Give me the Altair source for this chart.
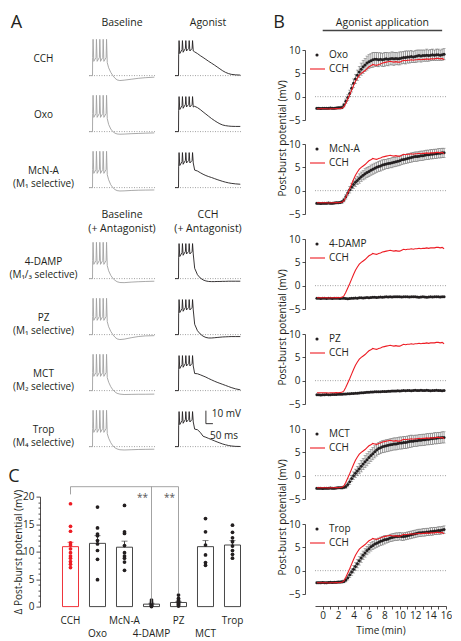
import altair as alt
import pandas as pd
import numpy as np

FONT = "Open Sans"
INK = "#231f20"
RED = "#ed1c24"
TRACE_GRAY = "#a0a0a0"
TRACE_BLACK = "#231f20"
DOT_GRAY = "#8a8a8a"

# ------------------------------------------------------------------ Panel A data
A_ROWS = ["CCH", "Oxo", "McN-A", "4-DAMP", "PZ", "MCT", "Trop"]
A_ROW_LABELS = {
    "CCH": ["CCH"],
    "Oxo": ["Oxo"],
    "McN-A": ["McN-A", "(M₁ selective)"],
    "4-DAMP": ["4-DAMP", "(M₁/₃ selective)"],
    "PZ": ["PZ", "(M₁ selective)"],
    "MCT": ["MCT", "(M₂ selective)"],
    "Trop": ["Trop", "(M₄ selective)"],
}
A_HEAD_TOP = [["Baseline"], ["Agonist"]]
A_HEAD_BOTTOM = [["Baseline", "(+ Antagonist)"], ["CCH", "(+ Antagonist)"]]

# burst (ms, mV relative to pre-burst level)
BURST_T = [0, 25, 26, 29, 34, 50, 53, 58, 74, 77, 82, 98, 101, 106, 122, 125, 130]
BASE_BURST_V = [0, 0, 14, 28, 11, 14, 28, 11, 14, 28, 11, 14, 28, 11, 14, 28, 10]
AGO_BURST_V = [0, 0, 16, 27, 17, 20, 27, 18, 21, 27, 19, 21, 27, 19, 21, 27, 19]

BASE_TAIL_T = [140, 155, 170, 185, 200, 220, 250, 300, 350, 400, 465]
BASE_TAIL_V = {
    "CCH": [6, 2.5, 0.0, -2.0, -3.3, -3.8, -3.5, -2.8, -2.1, -1.6, -1.2],
    "Oxo": [5.5, 2, 0.0, -1.2, -1.8, -2.0, -1.9, -1.6, -1.4, -1.2, -1.0],
    "McN-A": [6, 2.2, 0.0, -1.5, -2.3, -2.6, -2.5, -2.2, -2.0, -1.9, -1.8],
    "4-DAMP": [6, 2.5, 0.2, -1.3, -2.4, -3.0, -3.1, -2.7, -2.4, -2.2, -2.0],
    "PZ": [6, 2.5, 0.0, -2.0, -3.3, -3.8, -3.5, -2.4, -1.5, -1.0, -0.8],
    "MCT": [6.5, 3, 0.6, -1.0, -2.1, -2.7, -3.0, -2.9, -2.8, -2.8, -2.7],
    "Trop": [6.5, 3, 0.6, -0.9, -1.8, -2.4, -2.6, -2.4, -2.2, -2.1, -2.0],
}
AGO_TAIL_T = [140, 160, 180, 200, 220, 240, 260, 280, 300, 320, 340, 360, 380, 400, 430, 465]
AGO_TAIL_V = {
    "CCH": [18.3, 17.0, 15.4, 14.0, 12.5, 11.0, 9.6, 8.2, 6.7, 5.2, 3.7, 2.5, 1.6, 1.0, 0.6, 0.4],
    "Oxo": [19.5, 18.5, 17.0, 15.2, 13.5, 11.8, 10.1, 8.6, 7.2, 6.0, 5.1, 4.6, 4.3, 4.1, 4.0, 4.0],
    "McN-A": [13.5, 12.8, 11.5, 10.3, 9.3, 8.5, 7.8, 7.0, 6.2, 5.5, 4.8, 4.2, 3.7, 3.3, 2.9, 2.6],
    "4-DAMP": [8.0, 3.0, 0.5, -1.0, -1.8, -2.2, -2.3, -2.3, -2.2, -2.2, -2.1, -2.1, -2.0, -2.0, -2.0, -2.0],
    "PZ": [8.0, 3.0, 0.5, -1.2, -2.2, -2.6, -2.6, -2.4, -2.2, -2.0, -1.8, -1.7, -1.6, -1.5, -1.5, -1.5],
    "MCT": [13.2, 13.0, 12.2, 11.3, 10.4, 9.3, 8.3, 7.3, 6.4, 5.6, 4.8, 4.0, 3.2, 2.4, 1.4, 0.6],
    "Trop": [13.5, 13.0, 11.0, 8.0, 7.2, 6.3, 5.4, 4.5, 3.6, 2.8, 2.0, 1.4, 0.9, 0.5, 0.2, 0.1],
}
SCALEBAR_T = [220, 270]      # 50 ms
SCALEBAR_V = [17.7, 27.7]    # 10 mV

# ------------------------------------------------------------------ Panel B data
T_GRID = np.round(np.arange(-0.75, 15.76, 0.25), 2)
CCH_B = [-2.6, -2.6, -2.6, -2.6, -2.6, -2.6, -2.65, -2.6, -2.6, -2.6, -2.55, -2.6, -2.55,
         -2.5, -2.2, -1.4, -0.5, 0.4, 1.4, 2.4, 3.3, 4.0, 4.6,
         5.0, 5.3, 5.6, 6.0, 6.4, 6.6, 6.9, 6.8, 6.7, 6.9,
         7.0, 7.2, 7.3, 7.4, 7.5, 7.6, 7.5, 7.4, 7.5, 7.4,
         7.4, 7.6, 7.8, 7.7, 7.8, 7.8, 7.9, 7.8, 7.9, 7.9,
         8.0, 7.9, 8.0, 8.0, 8.1, 8.0, 8.1, 8.1, 8.1, 8.2,
         8.2, 8.1, 8.2, 7.9]
B_DRUGS = ["Oxo", "McN-A", "4-DAMP", "PZ", "MCT", "Trop"]
B_VALUES = {
    "Oxo": [-2.5, -2.5, -2.55, -2.5, -2.5, -2.5, -2.5, -2.45, -2.5, -2.5, -2.45, -2.4, -2.4,
            -2.3, -1.8, -1.0, -0.2, 0.7, 1.8, 2.9, 3.8, 4.6, 5.3,
            5.9, 6.4, 6.8, 7.2, 7.5, 7.7, 7.9, 8.0, 8.0, 7.9,
            8.0, 7.9, 8.0, 8.1, 8.0, 8.1, 8.2, 8.1, 8.2, 8.1,
            8.2, 8.3, 8.4, 8.4, 8.5, 8.5, 8.6, 8.5, 8.6, 8.7,
            8.8, 8.7, 8.8, 8.8, 8.9, 8.8, 8.9, 9.0, 8.9, 9.0,
            9.0, 8.9, 9.0, 9.1],
    "McN-A": [-2.7, -2.7, -2.75, -2.7, -2.7, -2.7, -2.65, -2.7, -2.7, -2.65, -2.6, -2.6, -2.55,
              -2.4, -2.0, -1.3, -0.5, 0.2, 0.8, 1.3, 1.8, 2.2, 2.6,
              3.0, 3.3, 3.6, 3.9, 4.1, 4.4, 4.6, 4.8, 5.0, 5.2,
              5.3, 5.5, 5.6, 5.7, 5.8, 5.9, 6.0, 6.1, 6.2, 6.3,
              6.4, 6.6, 6.7, 6.8, 6.9, 7.0, 7.1, 7.2, 7.3, 7.3,
              7.4, 7.5, 7.5, 7.6, 7.7, 7.7, 7.8, 7.8, 7.9, 7.9,
              8.0, 8.0, 8.1, 8.1],
    "4-DAMP": [-2.7, -2.7, -2.75, -2.7, -2.7, -2.75, -2.7, -2.7, -2.75, -2.7,
               -2.7, -2.7, -2.75, -2.7, -2.7, -2.75, -2.8, -2.75, -2.7, -2.7,
               -2.65, -2.7, -2.6, -2.6, -2.65, -2.6, -2.55, -2.6, -2.55, -2.5,
               -2.5, -2.55, -2.5, -2.45, -2.5, -2.45, -2.4, -2.45, -2.4, -2.45,
               -2.4, -2.4, -2.35, -2.4, -2.45, -2.4, -2.35, -2.4, -2.45, -2.4,
               -2.35, -2.4, -2.45, -2.5, -2.45, -2.4, -2.45, -2.5, -2.45, -2.4,
               -2.45, -2.4, -2.35, -2.4, -2.45, -2.4, -2.35],
    "PZ": [-3.0, -3.0, -3.05, -3.0, -3.0, -2.95, -3.0, -3.0, -2.95, -2.95,
           -2.95, -2.9, -2.9, -2.9, -2.85, -2.85, -2.8, -2.8, -2.75, -2.75,
           -2.7, -2.7, -2.65, -2.6, -2.6, -2.55, -2.5, -2.5, -2.45, -2.45,
           -2.4, -2.4, -2.35, -2.35, -2.3, -2.3, -2.3, -2.25, -2.25, -2.2,
           -2.2, -2.2, -2.15, -2.2, -2.15, -2.1, -2.15, -2.1, -2.1, -2.15,
           -2.1, -2.05, -2.1, -2.1, -2.05, -2.1, -2.1, -2.05, -2.1, -2.15,
           -2.1, -2.1, -2.05, -2.1, -2.1, -2.15, -2.1],
    "MCT": [-2.7, -2.7, -2.7, -2.75, -2.7, -2.7, -2.7, -2.65, -2.7, -2.7, -2.65, -2.6, -2.6,
            -2.6, -2.5, -2.3, -1.9, -1.3, -0.6, 0.0, 0.5, 1.0, 1.5,
            2.0, 2.5, 3.0, 3.4, 3.9, 4.3, 4.7, 5.1, 5.5, 5.8,
            6.0, 6.2, 6.3, 6.4, 6.5, 6.6, 6.7, 6.8, 6.8, 6.9,
            7.0, 7.0, 7.1, 7.1, 7.2, 7.3, 7.4, 7.4, 7.5, 7.5,
            7.6, 7.6, 7.7, 7.7, 7.8, 7.8, 7.9, 7.9, 8.0, 8.0,
            8.1, 8.1, 8.2, 8.2],
    "Trop": [-2.6, -2.6, -2.6, -2.55, -2.6, -2.6, -2.55, -2.5, -2.55, -2.5, -2.5, -2.45, -2.45,
             -2.4, -2.3, -2.0, -1.5, -0.9, -0.3, 0.3, 0.9, 1.5, 2.1,
             2.7, 3.3, 3.8, 4.3, 4.7, 5.1, 5.4, 5.7, 5.9, 6.1,
             6.3, 6.4, 6.6, 6.7, 6.8, 7.0, 7.1, 7.2, 7.3, 7.3,
             7.4, 7.3, 7.3, 7.4, 7.5, 7.6, 7.7, 7.8, 7.9, 8.0,
             8.1, 8.1, 8.2, 8.2, 8.3, 8.3, 8.4, 8.4, 8.5, 8.5,
             8.6, 8.6, 8.7, 8.8],
}
B_SEM = {
    "Oxo": [0.2, 0.2, 0.2, 0.2, 0.2, 0.2, 0.2, 0.2, 0.2, 0.2, 0.2, 0.2, 0.25,
            0.3, 0.4, 0.5, 0.6, 0.7, 0.8, 0.9, 1.0, 1.1, 1.2,
            1.3, 1.4, 1.4, 1.5, 1.5, 1.5, 1.6, 1.5, 1.5, 1.5,
            1.4, 1.4, 1.5, 1.4, 1.4, 1.3, 1.4, 1.4, 1.3, 1.3,
            1.4, 1.3, 1.3, 1.4, 1.3, 1.3, 1.3, 1.2, 1.3, 1.3,
            1.2, 1.3, 1.2, 1.2, 1.3, 1.2, 1.2, 1.2, 1.1, 1.2,
            1.2, 1.1, 1.2, 1.2],
    "McN-A": [0.2, 0.2, 0.2, 0.2, 0.2, 0.2, 0.2, 0.2, 0.2, 0.2, 0.2, 0.2, 0.25,
              0.3, 0.4, 0.5, 0.6, 0.7, 0.8, 0.8, 0.9, 0.9, 1.0,
              1.0, 1.0, 1.1, 1.1, 1.1, 1.1, 1.1, 1.1, 1.1, 1.1,
              1.1, 1.1, 1.1, 1.0, 1.1, 1.0, 1.1, 1.0, 1.0, 1.0,
              1.0, 1.0, 1.0, 1.0, 1.0, 1.0, 1.0, 1.0, 1.0, 1.0,
              1.0, 1.0, 1.0, 1.0, 1.0, 1.0, 1.0, 1.0, 1.0, 1.0,
              1.0, 1.0, 1.0, 1.0],
    "MCT": [0.2, 0.2, 0.2, 0.2, 0.2, 0.2, 0.2, 0.2, 0.2, 0.2, 0.2, 0.2, 0.2,
            0.25, 0.3, 0.4, 0.5, 0.6, 0.7, 0.8, 0.9, 1.0, 1.1,
            1.2, 1.2, 1.3, 1.3, 1.3, 1.3, 1.3, 1.3, 1.3, 1.3,
            1.3, 1.3, 1.3, 1.3, 1.3, 1.3, 1.3, 1.3, 1.3, 1.3,
            1.3, 1.3, 1.3, 1.3, 1.3, 1.3, 1.3, 1.2, 1.2, 1.2,
            1.2, 1.2, 1.2, 1.2, 1.2, 1.2, 1.2, 1.2, 1.2, 1.2,
            1.2, 1.2, 1.2, 1.2],
    "Trop": [0.2, 0.2, 0.2, 0.2, 0.2, 0.2, 0.2, 0.2, 0.2, 0.2, 0.2, 0.2, 0.2,
             0.25, 0.3, 0.4, 0.5, 0.6, 0.7, 0.8, 0.8, 0.9, 0.9,
             0.9, 0.9, 0.9, 0.9, 0.9, 0.9, 0.9, 0.9, 0.9, 0.9,
             0.9, 0.9, 0.9, 0.8, 0.8, 0.8, 0.8, 0.8, 0.8, 0.8,
             0.8, 0.8, 0.8, 0.8, 0.8, 0.8, 0.8, 0.8, 0.8, 0.8,
             0.8, 0.8, 0.8, 0.8, 0.8, 0.8, 0.8, 0.8, 0.8, 0.8,
             0.8, 0.8, 0.8, 0.8],
}

# ------------------------------------------------------------------ Panel C data
C_GROUPS = ["CCH", "Oxo", "McN-A", "4-DAMP", "PZ", "MCT", "Trop"]
C_MEAN = [10.9, 11.5, 10.8, 0.45, 0.75, 10.9, 11.2]
C_SEM = [0.8, 1.4, 1.1, 0.15, 0.2, 1.1, 0.8]
C_CELLS = {
    "CCH": [18.7, 14.6, 13.7, 11.6, 11.2, 10.5, 9.8, 9.2, 8.8, 8.2, 7.7, 7.1],
    "Oxo": [18.1, 14.3, 13.2, 12.9, 12.0, 11.4, 10.2, 8.6, 4.9],
    "McN-A": [18.4, 13.6, 13.3, 11.1, 9.8, 9.2, 8.8, 8.1, 6.6],
    "4-DAMP": [1.2, 0.9, 0.7, 0.5, 0.4, 0.3, 0.2, 0.1, 0.0],
    "PZ": [2.1, 1.5, 1.2, 1.0, 0.8, 0.6, 0.4, 0.3, 0.1],
    "MCT": [16.0, 13.6, 11.2, 9.4, 8.0, 7.5],
    "Trop": [14.8, 13.5, 12.5, 11.8, 11.0, 10.2, 9.5, 8.8],
}
C_BRACKET = {"from": "CCH", "to": "PZ", "y": 21.8}
C_DROPS = {"g": ["CCH", "4-DAMP", "PZ"], "bot": [20.4, 0.6, 2.4]}
C_STARS = {"g": ["4-DAMP", "PZ"], "y": [19.8, 19.8], "txt": ["**", "**"]}


def one():
    return pd.DataFrame({"k": [0]})


def label(text, x, y, size=10, align="center", baseline="middle", lh=13):
    return alt.Chart(one()).mark_text(
        font=FONT, fontSize=size, color=INK, align=align, baseline=baseline, lineHeight=lh
    ).encode(x=alt.value(x), y=alt.value(y), text=alt.value(text))


def blank(w, h):
    return alt.Chart(one()).mark_point(opacity=0).encode(
        x=alt.value(0), y=alt.value(0)).properties(width=w, height=h)


# ------------------------------------------------------------------ Panel A charts
LW = 11.3          # row-label column
CW, CHH = 66, 48   # trace cells
T_DOM = [0, 470]
V_DOM = [-8, 29]


def label_cell(row, letter=False):
    lab = A_ROW_LABELS[row]
    layers = [label(lab if len(lab) > 1 else lab[0], -13.5, 21, size=10, lh=13)]
    if letter:
        layers.append(label("A", -40.5, -15, size=18))
    return alt.layer(*layers).properties(width=LW, height=CHH)


def trace_cell(row, cond, header=None, scalebar=False):
    if cond == "base":
        t = BURST_T + BASE_TAIL_T
        v = BASE_BURST_V + BASE_TAIL_V[row]
        color = TRACE_GRAY
    else:
        t = BURST_T + AGO_TAIL_T
        v = AGO_BURST_V + AGO_TAIL_V[row]
        color = TRACE_BLACK
    xsc = alt.Scale(domain=T_DOM, nice=False, zero=False)
    ysc = alt.Scale(domain=V_DOM, nice=False, zero=False)

    def X(f):
        return alt.X(f, scale=xsc, axis=None)

    def Y(f):
        return alt.Y(f, scale=ysc, axis=None)

    df = pd.DataFrame({"t": t, "v": v})
    zero = alt.Chart(pd.DataFrame({"v": [0.0]})).mark_rule(
        color=DOT_GRAY, strokeDash=[1, 1.5], strokeWidth=0.8).encode(y=Y("v:Q"))
    line = alt.Chart(df).mark_line(color=color, strokeWidth=0.9).encode(x=X("t:Q"), y=Y("v:Q"))
    layers = [zero, line]
    if header is not None:
        if len(header) == 1:
            layers.append(label(header[0], CW / 2, -15, size=10.5))
        else:
            layers.append(label(header, CW / 2, -26, size=10.5, lh=14))
    if scalebar:
        sb = pd.DataFrame({"t0": [SCALEBAR_T[0]], "t1": [SCALEBAR_T[1]],
                           "v0": [SCALEBAR_V[0]], "v1": [SCALEBAR_V[1]]})
        layers.append(alt.Chart(sb).mark_rule(color=INK, strokeWidth=0.9).encode(
            x=X("t0:Q"), y=Y("v0:Q"), y2="v1:Q"))
        layers.append(alt.Chart(sb).mark_rule(color=INK, strokeWidth=0.9).encode(
            x=X("t0:Q"), x2="t1:Q", y=Y("v0:Q")))
        lab = pd.DataFrame({"t": [262, 249], "v": [25.0, 8.0], "txt": ["10 mV", "50 ms"]})
        layers.append(alt.Chart(lab).mark_text(
            font=FONT, fontSize=10, color=INK, align="left", baseline="middle"
        ).encode(x=X("t:Q"), y=Y("v:Q"), text="txt:N"))
    return alt.layer(*layers).properties(width=CW, height=CHH)


cells = []
for i, row in enumerate(A_ROWS[:3]):
    cells.append(label_cell(row, letter=(i == 0)))
    cells.append(trace_cell(row, "base", header=A_HEAD_TOP[0] if i == 0 else None))
    cells.append(trace_cell(row, "ago", header=A_HEAD_TOP[1] if i == 0 else None))
cells += [blank(LW, 27), blank(CW, 27), blank(CW, 27)]
for i, row in enumerate(A_ROWS[3:]):
    cells.append(label_cell(row))
    cells.append(trace_cell(row, "base", header=A_HEAD_BOTTOM[0] if i == 0 else None))
    cells.append(trace_cell(row, "ago", header=A_HEAD_BOTTOM[1] if i == 0 else None,
                            scalebar=(row == "Trop")))

panel_a = alt.concat(*cells, columns=3, bounds="flush", align="each",
                     spacing={"row": 8, "column": 20})

# ------------------------------------------------------------------ Panel B charts
BW, BH = 131, 70
B_XSC = alt.Scale(domain=[-1, 16], nice=False, zero=False)
B_YSC = alt.Scale(domain=[-5, 10], nice=False, zero=False)


def b_head():
    app = pd.DataFrame({"t0": [0.0], "t1": [15.5], "tm": [7.75], "txt": ["Agonist application"]})
    X = lambda f: alt.X(f, scale=B_XSC, axis=None)
    rule = alt.Chart(app).mark_rule(color="#444444", strokeWidth=1.3).encode(
        x=X("t0:Q"), x2="t1:Q", y=alt.value(-7.5))
    txt = alt.Chart(app).mark_text(
        font=FONT, fontSize=10.5, color=INK, align="center", baseline="middle"
    ).encode(x=X("tm:Q"), y=alt.value(-15.5), text="txt:N")
    return alt.layer(rule, txt, label("B", -36, -15, size=18)).properties(width=BW, height=11.3)


def b_chart(drug, ytitle=False, last=False):
    if last:
        xax = alt.Axis(values=list(range(0, 17)),
                       labelExpr="datum.value % 2 === 0 ? datum.label : ''",
                       title="Time (min)", offset=12, tickSize=3, labelPadding=1,
                       titlePadding=5, grid=False, labelFlush=False, labelFontSize=10,
                       titleFontSize=10)
    else:
        xax = None
    yargs = dict(values=[-5, 0, 5, 10], offset=10, tickSize=3, labelPadding=2, grid=False,
                 labelFontSize=10)
    if ytitle:
        yargs.update(title="Post-burst potential (mV)", titleY=88, titleX=-23,
                     titleBaseline="middle", titleFontSize=10)
    else:
        yargs.update(title="")
    yax = alt.Axis(**yargs)

    def X(f):
        return alt.X(f, scale=B_XSC, axis=xax)

    def Y(f):
        return alt.Y(f, scale=B_YSC, axis=yax)

    vals = B_VALUES[drug]
    df = pd.DataFrame({"t": T_GRID, "v": vals})
    cch = pd.DataFrame({"t": T_GRID, "v": CCH_B})

    zero = alt.Chart(pd.DataFrame({"v": [0.0]})).mark_rule(
        color=DOT_GRAY, strokeDash=[1, 1.5], strokeWidth=0.8).encode(y=Y("v:Q"))
    layers = [zero]
    if drug in B_SEM:
        sem = B_SEM[drug]
        edf = pd.DataFrame({"t": T_GRID, "lo": [a - b for a, b in zip(vals, sem)],
                            "hi": [a + b for a, b in zip(vals, sem)]})
        layers.append(alt.Chart(edf).mark_rule(color="#555555", strokeWidth=0.6).encode(
            x=X("t:Q"), y=Y("lo:Q"), y2="hi:Q"))
        for f in ["lo", "hi"]:
            layers.append(alt.Chart(edf).mark_tick(
                color="#555555", orient="horizontal", size=3, thickness=0.6
            ).encode(x=X("t:Q"), y=Y(f + ":Q")))
    dots = alt.Chart(df).mark_circle(size=9, color=INK, opacity=1).encode(x=X("t:Q"), y=Y("v:Q"))
    red = alt.Chart(cch).mark_line(color=RED, strokeWidth=1.1).encode(x=X("t:Q"), y=Y("v:Q"))
    layers += [dots, red]

    # legend (drawn)
    layers.append(alt.Chart(one()).mark_circle(size=10, color=INK, opacity=1).encode(
        x=alt.value(2), y=alt.value(5)))
    layers.append(alt.Chart(one()).mark_rule(color=RED, strokeWidth=1.1).encode(
        x=alt.value(-5), x2=alt.value(10), y=alt.value(19)))
    layers.append(label(drug, 14, 5, align="left"))
    layers.append(label("CCH", 14, 19, align="left"))
    return alt.layer(*layers).properties(width=BW, height=BH)


B_GAPS = [24, 25, 25, 25, 25]
b_items = [b_head()]
for i, d in enumerate(B_DRUGS):
    b_items.append(b_chart(d, ytitle=(i % 2 == 0), last=(i == len(B_DRUGS) - 1)))
    if i < len(B_DRUGS) - 1:
        b_items.append(blank(BW, B_GAPS[i]))
panel_b = alt.vconcat(*b_items, spacing=0, bounds="flush")

# ------------------------------------------------------------------ Panel C chart
bars_df = pd.DataFrame({"g": C_GROUPS, "mean": C_MEAN,
                        "hi": [m + s for m, s in zip(C_MEAN, C_SEM)]})
pts_rows = [(g, v) for g in C_GROUPS for v in C_CELLS[g]]
pts_df = pd.DataFrame(pts_rows, columns=["g", "val"])

cx = alt.Scale(domain=C_GROUPS, paddingInner=0.407, paddingOuter=0.2035)
cy = alt.Scale(domain=[0, 20], nice=False, zero=False)
cxax = alt.Axis(
    title=None, domain=False, ticks=False, tickSize=0, labelAngle=0, labelPadding=9,
    labelFontSize=10, labelLineHeight=13, labelBaseline="top",
    labelExpr="indexof(['Oxo','4-DAMP','MCT'], datum.value) >= 0 ? ['', datum.label] : datum.label")
cyax = alt.Axis(
    values=list(range(0, 21)), labelExpr="datum.value % 5 === 0 ? datum.label : ''",
    tickSize={"condition": {"test": "datum.value % 5 === 0", "value": 4}, "value": 2},
    offset=17, grid=False, labelPadding=2, labelFontSize=10,
    title="Δ Post-burst potential (mV)", titleX=-22, titleBaseline="middle", titleFontSize=10)


def CX():
    return alt.X("g:N", sort=C_GROUPS, scale=cx, axis=cxax)


def CY(f):
    return alt.Y(f, scale=cy, axis=cyax)


is_cch = alt.datum.g == "CCH"
c_bars = alt.Chart(bars_df).mark_bar(fill="white", strokeWidth=0.9).encode(
    x=CX(), y=CY("mean:Q"), stroke=alt.condition(is_cch, alt.value(RED), alt.value("#333333")))
c_err = alt.Chart(bars_df).mark_rule(strokeWidth=0.9).encode(
    x=CX(), y=CY("mean:Q"), y2="hi:Q",
    color=alt.condition(is_cch, alt.value(RED), alt.value("#333333")))
c_cap = alt.Chart(bars_df).mark_tick(orient="horizontal", size=6, thickness=0.9).encode(
    x=CX(), y=CY("hi:Q"), color=alt.condition(is_cch, alt.value(RED), alt.value("#333333")))
c_pts = alt.Chart(pts_df).mark_circle(size=14, opacity=1).encode(
    x=CX(), y=CY("val:Q"), color=alt.condition(is_cch, alt.value(RED), alt.value(INK)))
br_df = pd.DataFrame({"g": [C_BRACKET["from"], C_BRACKET["to"]], "y": [C_BRACKET["y"]] * 2})
c_br = alt.Chart(br_df).mark_line(color="#8c8c8c", strokeWidth=0.8).encode(x=CX(), y=CY("y:Q"))
drop_df = pd.DataFrame({"g": C_DROPS["g"], "top": [C_BRACKET["y"]] * 3, "bot": C_DROPS["bot"]})
c_drop = alt.Chart(drop_df).mark_rule(color="#8c8c8c", strokeWidth=0.8).encode(
    x=CX(), y=CY("top:Q"), y2="bot:Q")
c_star = alt.Chart(pd.DataFrame(C_STARS)).mark_text(
    font=FONT, fontSize=10, color="#555555", dx=-9, align="center", baseline="middle"
).encode(x=CX(), y=CY("y:Q"), text="txt:N")
c_letter = label("C", -43, -20, size=18)

panel_c = alt.layer(c_bars, c_err, c_cap, c_pts, c_br, c_drop, c_star, c_letter).properties(
    width=189, height=110)

left = alt.vconcat(panel_a, panel_c, spacing=10.6)
chart = alt.hconcat(left, panel_b, spacing=27).properties(
    padding={"left": 0, "top": 6, "right": 0, "bottom": 0}
).configure_view(strokeWidth=0).configure_axis(
    labelFont=FONT, titleFont=FONT, labelColor=INK, titleColor=INK, domainColor=INK,
    tickColor=INK, domainWidth=0.8, tickWidth=0.8, titleFontWeight="normal"
).configure_title(font=FONT, fontWeight="normal", color=INK)

chart.save("out.html", embed_options={"renderer": "svg", "actions": False})
